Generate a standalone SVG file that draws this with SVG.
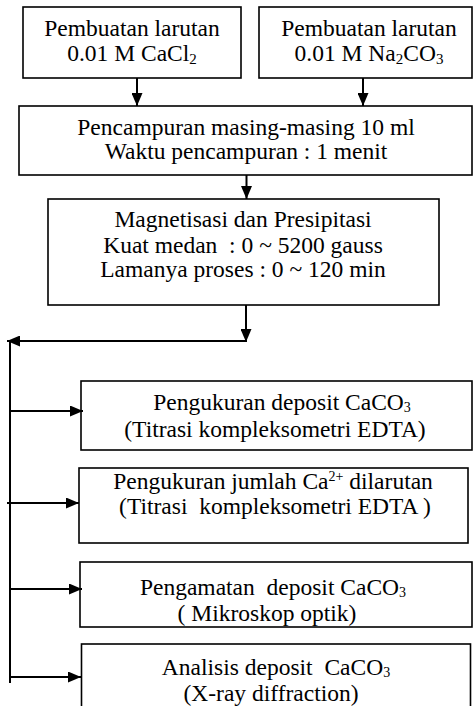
<svg xmlns="http://www.w3.org/2000/svg" width="474" height="706" viewBox="0 0 474 706">
<style>
.box{fill:#fff;stroke:#000;stroke-width:1.6}
.t{font-family:"Liberation Serif","Times New Roman",serif;font-size:23.5px;fill:#000;text-anchor:middle;white-space:pre}
.c{fill:none;stroke:#000;stroke-width:2}
</style>
<defs>
<marker id="ah" markerUnits="userSpaceOnUse" markerWidth="13" markerHeight="11" refX="13" refY="5.5" orient="auto">
<path d="M0,0 L13,5.5 L0,11 z" fill="#000"/>
</marker>
</defs>
<g id="n1">
<rect class="box" x="23" y="7" width="218" height="71"/>
<text class="t" x="132" y="36">Pembuatan larutan</text>
<text class="t" x="132" y="61">0.01 M CaCl<tspan font-size="15" dy="3">2</tspan></text>
</g>
<g id="n2">
<rect class="box" x="259" y="7" width="213" height="71"/>
<text class="t" x="369" y="36">Pembuatan larutan</text>
<text class="t" x="369" y="61">0.01 M Na<tspan font-size="15" dy="3">2</tspan><tspan dy="-3">CO</tspan><tspan font-size="15" dy="3">3</tspan></text>
</g>
<g id="n3">
<rect class="box" x="19" y="106" width="453" height="69"/>
<text class="t" x="246" y="135">Pencampuran masing-masing 10 ml</text>
<text class="t" x="246" y="159">Waktu pencampuran : 1 menit</text>
</g>
<g id="n4">
<rect class="box" x="48" y="199" width="391" height="106"/>
<text class="t" x="243" y="227">Magnetisasi dan Presipitasi</text>
<text class="t" x="243" y="253">Kuat medan  : 0 ~ 5200 gauss</text>
<text class="t" x="243" y="277">Lamanya proses : 0 ~ 120 min</text>
</g>
<g id="n5">
<rect class="box" x="81" y="381" width="391" height="69"/>
<text class="t" x="282" y="410">Pengukuran deposit CaCO<tspan font-size="14" dy="2">3</tspan></text>
<text class="t" x="275" y="437">(Titrasi kompleksometri EDTA)</text>
</g>
<g id="n6">
<rect class="box" x="79" y="468" width="389" height="75"/>
<text class="t" x="273" y="489">Pengukuran jumlah Ca<tspan font-size="14" dy="-8">2+</tspan><tspan dy="8"> dilarutan</tspan></text>
<text class="t" x="275" y="514">(Titrasi  kompleksometri EDTA )</text>
</g>
<g id="n7">
<rect class="box" x="80" y="562" width="392" height="65"/>
<text class="t" x="273" y="595">Pengamatan  deposit CaCO<tspan font-size="14" dy="2">3</tspan></text>
<text class="t" x="267" y="621">( Mikroskop optik)</text>
</g>
<g id="n8">
<rect class="box" x="81.5" y="644" width="389" height="80"/>
<text class="t" x="276" y="675">Analisis deposit  CaCO<tspan font-size="14" dy="2">3</tspan></text>
<text class="t" x="271" y="701">(X-ray diffraction)</text>
</g>
<g id="connectors">
<line class="c" x1="137" y1="78" x2="137" y2="106" marker-end="url(#ah)"/>
<line class="c" x1="363" y1="78" x2="363" y2="106" marker-end="url(#ah)"/>
<line class="c" x1="246.5" y1="175" x2="246.5" y2="199" marker-end="url(#ah)"/>
<line class="c" x1="246" y1="305" x2="246" y2="342" marker-end="url(#ah)"/>
<line class="c" x1="247" y1="341" x2="7" y2="341" marker-end="url(#ah)"/>
<line class="c" x1="10" y1="342" x2="10" y2="683"/>
<line class="c" x1="10" y1="411" x2="83" y2="411" marker-end="url(#ah)"/>
<line class="c" x1="7" y1="503" x2="79" y2="503" marker-end="url(#ah)"/>
<line class="c" x1="10" y1="589" x2="82" y2="589" marker-end="url(#ah)"/>
<line class="c" x1="9" y1="677" x2="81" y2="677" marker-end="url(#ah)"/>
</g>
</svg>
